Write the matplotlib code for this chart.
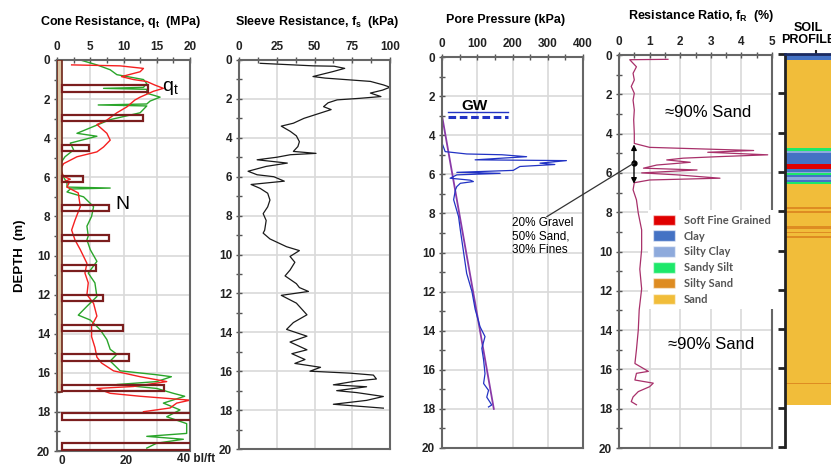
import numpy as np
import matplotlib
matplotlib.use('Agg')
import matplotlib.pyplot as plt
from matplotlib.patches import Patch, ConnectionPatch
from matplotlib.ticker import MultipleLocator

plt.rcParams['font.family'] = ['Liberation Sans', 'DejaVu Sans']
plt.rcParams['font.weight'] = 'bold'
plt.rcParams['mathtext.fontset'] = 'custom'
plt.rcParams['mathtext.rm'] = 'Liberation Sans'
plt.rcParams['mathtext.it'] = 'Liberation Sans'
plt.rcParams['mathtext.bf'] = 'Liberation Sans:bold'

# ---------------- data (depth in m) ----------------
qt_depth = [0.25, 0.3, 0.43, 0.6, 0.85, 1.0, 1.1, 1.28, 1.45, 1.6, 1.9, 2.05, 2.4, 2.7, 3.07,
            3.3, 3.6, 3.75, 4.1, 4.45, 4.7, 4.95, 5.3, 5.6, 5.95, 6.1, 6.2, 6.3, 6.5, 6.8,
            7.5, 8.2, 8.7, 9.2, 9.7, 10.4, 10.9, 11.4, 12.0, 12.45, 13.1, 13.6, 14.15, 14.7, 15.2,
            15.5, 15.9, 16.2, 16.45, 16.7, 16.8, 17.05, 17.2, 17.4, 17.55, 17.8, 17.99]
qt = [2.2, 9.5, 13, 12.5, 9.7, 11.5, 13.5, 14.7, 16, 14.5, 12.5, 11.7, 10.5, 9, 7.5,
      6, 7, 7.5, 8, 7, 6, 3, 1, 0.5, 1, 2, 1.2, 1.8, 1.5, 3.2,
      3.5, 2.7, 2.2, 2.7, 3.5, 4.5, 4.2, 4.7, 4.5, 5.5, 6, 5.2, 5.2, 5.7, 6,
      6.7, 8.5, 12.5, 16.5, 11.5, 6, 8, 12.5, 20, 18, 17, 13]

qc2_depth = [0, 0.25, 0.5, 0.75, 1.0, 1.2, 1.4, 1.45, 1.5, 1.7, 1.9, 2.1, 2.25, 2.3, 2.35,
             2.7, 3.05, 3.4, 3.75, 3.9, 4.25, 4.6, 4.95, 5.3, 5.8, 6.3, 6.5, 6.55, 6.6, 6.75,
             7.0, 7.5, 8.0, 8.5, 9.0, 9.2, 9.7, 10.3, 10.9, 11.4, 12.1, 12.6, 13.05, 13.3, 13.8,
             14.3, 14.8, 15.05, 15.4, 15.9, 16.1, 16.2, 16.45, 16.6, 16.8, 17.05, 17.2, 17.55, 17.9, 18.25,
             18.6, 19.1, 19.25, 19.4, 19.6, 19.85]
qc2 = [3.5, 6, 8, 9, 13, 13.5, 13, 7, 13.5, 13.5, 15.5, 14, 13.5, 6.2, 13.5,
       12.5, 8, 5.5, 3, 6, 2, 2.5, 1.2, 0.5, 0.7, 1.5, 1.5, 8, 2, 1.5,
       4, 5.5, 5.2, 4.5, 4.7, 4.5, 5, 6, 4.7, 5.7, 6, 4.5, 3.2, 5, 6.5,
       7.5, 8, 9, 8, 9.5, 15, 17.2, 15, 9, 15, 17.5, 19.2, 16, 18.5, 16.5,
       19.5, 19.5, 13.5, 19, 15, 13.5]

spt_depth = [1.3, 2.8, 4.35, 5.92, 7.4, 8.95, 10.47, 12.0, 13.55, 15.05, 16.6, 18.06, 19.6]
spt_n = [27, 25.3, 8.5, 6.5, 14.7, 14.7, 10.6, 12.7, 19, 21, 32, 50, 50]
casing_bottom = 17.0

fs_depth = [0.17, 0.3, 0.32, 0.43, 0.6, 0.85, 0.93, 1.1, 1.28, 1.4, 1.55, 1.7, 1.88, 1.97, 2.05,
            2.2, 2.4, 2.55, 2.8, 3.0, 3.25, 3.4, 3.67, 3.9, 4.2, 4.45, 4.7, 4.8, 4.87, 5.0,
            5.13, 5.3, 5.47, 5.72, 5.9, 6.0, 6.23, 6.4, 6.6, 6.85, 7.2, 7.55, 7.9, 8.25, 8.75,
            8.9, 9.2, 9.6, 9.8, 10.1, 10.4, 10.8, 11.1, 11.5, 11.7, 11.9, 12.1, 12.5, 12.8, 13.1,
            13.5, 13.85, 14.2, 14.5, 14.9, 15.1, 15.4, 15.6, 15.8, 16.0, 16.1, 16.2, 16.4, 16.5, 16.7,
            16.8, 17.0, 17.1, 17.3, 17.5, 17.7, 17.9]
fs = [14, 49, 63, 70, 62, 49, 57, 87, 95.6, 100, 95, 87, 94, 80, 65,
      59, 56, 61, 51, 43, 36, 28, 34, 38, 40, 39, 36, 51, 34, 25,
      12, 32, 18, 6, 12, 23, 30, 8, 14, 19, 20.5, 19, 16, 18, 17,
      16, 20.5, 31.5, 40, 33.8, 37, 33.8, 30.5, 38, 40, 46, 28, 38, 41.5, 45,
      36, 31.5, 45, 33.8, 45, 35, 43.7, 37, 54, 47, 73.5, 89, 91, 78, 62.5,
      84.5, 64.7, 78, 95.6, 84.5, 62.5, 95.6]

u2_depth = [0, 4.4, 4.84, 4.96, 5.0, 5.1, 5.18, 5.26, 5.3, 5.43, 5.5, 5.6, 5.8, 5.9, 5.95,
            6.03, 6.2, 6.3, 6.37, 6.46, 6.63, 6.8, 7.3, 8.17, 8.85, 9.96, 11.07, 12.0, 12.9, 13.8,
            14.3, 14.9, 15.5, 16.2, 16.7, 17.05, 17.4, 17.65, 17.8, 17.9]
u2 = [0, 0, 9, 70, 170, 240, 165, 94, 353, 278, 320, 221, 202, 42, 165,
      42, 23, 80, 89, 52, 42, 38, 33, 47, 52, 61, 70, 85, 94, 108,
      122, 113, 118, 122, 118, 132, 127, 136, 141, 132]
u0_depth = [3.0, 18.0]
u0 = [0, 147]
gw_depth = 2.95
gw_span = [18, 188]

fr_depth = [0.22, 0.24, 0.6, 0.93, 1.27, 1.6, 1.95, 2.3, 2.8, 3.3, 4.0, 4.5, 4.7, 4.86, 4.95,
            5.08, 5.17, 5.25, 5.34, 5.46, 5.6, 5.76, 5.85, 6.0, 6.1, 6.27, 6.36, 6.5, 6.86, 7.37,
            8.05, 8.9, 9.9, 10.9, 11.9, 12.97, 14.0, 15.0, 15.7, 16.1, 16.2, 16.54, 16.7, 16.88, 17.13,
            17.4, 17.64, 17.8]
fr = [1.6, 0.35, 0.57, 0.46, 0.5, 0.4, 0.5, 0.46, 0.5, 0.48, 0.5, 0.5, 1.0, 4.4, 2.9,
      4.86, 3.3, 2.1, 1.56, 2.33, 1.23, 0.8, 2.55, 0.74, 1.9, 3.3, 1.0, 0.5, 0.46, 0.57,
      0.63, 0.74, 0.74, 0.68, 0.74, 0.66, 0.63, 0.57, 0.52, 0.96, 0.57, 0.52, 1.12, 1.0, 0.63,
      0.46, 0.4, 0.57]

soil_names = ['Soft Fine Grained', 'Clay', 'Silty Clay', 'Sandy Silt', 'Silty Sand', 'Sand']
soil_colors = ['#e00000', '#4472c4', '#8eaadc', '#1de86a', '#de8c22', '#f1bd3a']
soil_bounds = [0.0, 0.06, 0.3, 4.8, 4.92, 5.05, 5.6, 5.87, 5.99, 6.04, 6.16, 6.24, 6.41, 6.53, 6.62,
               7.81, 7.87, 8.01, 8.07, 8.73, 8.9, 9.08, 9.13, 9.25, 9.36, 16.72, 16.8, 17.85]
soil_layers = ['Clay', 'Clay', 'Sand', 'Sandy Silt', 'Silty Clay', 'Clay', 'Soft Fine Grained', 'Clay',
               'Silty Clay', 'Sandy Silt', 'Clay', 'Silty Clay', 'Clay', 'Sandy Silt', 'Sand',
               'Silty Sand', 'Sand', 'Silty Sand', 'Sand', 'Silty Sand', 'Sand', 'Silty Sand', 'Sand',
               'Silty Sand', 'Sand', 'Silty Sand', 'Sand']

# ---------------- layout ----------------
W, H = 831, 466
fig = plt.figure(figsize=(W / 100, H / 100), dpi=100)


def px_axes(l, t, r, b):
    return fig.add_axes([l / W, 1 - b / H, (r - l) / W, (b - t) / H])


def style(ax, xmax, xmaj, xmin):
    ax.set_ylim(20, 0)
    ax.set_xlim(0, xmax)
    ax.xaxis.tick_top()
    ax.xaxis.set_major_locator(MultipleLocator(xmaj))
    ax.xaxis.set_minor_locator(MultipleLocator(xmin))
    ax.yaxis.set_major_locator(MultipleLocator(2))
    ax.yaxis.set_minor_locator(MultipleLocator(1))
    ax.grid(True, which='major', color='#d9d9d9', lw=1.2)
    ax.set_axisbelow(True)
    ax.tick_params(which='both', direction='inout', length=4, width=1, colors='#555',
                   labelcolor='#222', labelsize=8.5, pad=3)
    for s in ax.spines.values():
        s.set_color('#666')
        s.set_linewidth(1.5)


ax1 = px_axes(57, 60, 190, 451)
ax2 = px_axes(239, 60, 390, 449)
ax3 = px_axes(442, 57, 583, 448)
ax4 = px_axes(619, 55, 772, 448)
ax5 = px_axes(785, 54, 845, 447)

# panel 1: cone resistance + SPT N
ax1b = ax1.twiny()
style(ax1, 20, 5, 2.5)
ax1.xaxis.tick_top()
ax1.plot(qc2, qc2_depth, color='#2aa52a', lw=1)
ax1.plot(qt, qt_depth, color='#f52020', lw=1)
ax1.text(17, 1.45, r'q$_\mathregular{t}$', fontsize=14, fontweight='normal', ha='center', va='center')
ax1b.set_xlim(-1.56, 40)
ax1b.set_ylim(20, 0)
ax1b.xaxis.tick_bottom()
ax1b.set_xticks([0, 20, 40])
ax1b.set_xticklabels(['0', '20', ''])
ax1b.tick_params(length=0, labelsize=8.5, labelcolor='#222', pad=3)
for s in ax1b.spines.values():
    s.set_visible(False)
ax1b.barh(casing_bottom / 2, 1.56, left=-1.56, height=casing_bottom,
          facecolor='#dcc6a6', edgecolor='#6e2418', lw=1.2)
ax1b.barh(np.array(spt_depth) + 0.165, spt_n, height=0.33, left=0,
          facecolor='none', edgecolor='#7b1e1e', lw=1.6)
ax1b.text(19, 7.4, 'N', fontsize=14, fontweight='normal', ha='center', va='center')
fig.text(177 / W, 1 - 459 / H, '40 bl/ft', fontsize=8.5, ha='left', va='center', color='#222')

# panel 2: sleeve resistance
style(ax2, 100, 25, 12.5)
ax2.plot(fs, fs_depth, color='#1a1a1a', lw=0.9)

# panel 3: pore pressure
style(ax3, 400, 100, 50)
ax3.plot(u0, u0_depth, color='#8a3aa8', lw=1.3)
ax3.plot(u2, u2_depth, color='#2233c4', lw=0.9)
ax3.plot(gw_span, [gw_depth - 0.13] * 2, color='#2233c4', lw=1)
ax3.plot(gw_span, [gw_depth + 0.13] * 2, color='#2233c4', lw=2.2, ls=(0, (2.5, 1.2)))
ax3.text(93, 2.5, 'GW', fontsize=11, ha='center', va='center')
ax3.text(198, 8.2, '20% Gravel\n50% Sand,\n30% Fines', fontsize=8.5, fontweight='normal',
         ha='left', va='top', linespacing=1.15)

# panel 4: resistance ratio
style(ax4, 5, 1, 0.5)
ax4.plot(fr, fr_depth, color='#a8306a', lw=0.9)
ax4.annotate('', xy=(0.49, 4.55), xytext=(0.49, 6.55),
             arrowprops=dict(arrowstyle='<|-|>', color='k', lw=1, mutation_scale=8, shrinkA=0, shrinkB=0))
ax4.plot(0.49, 5.5, 'o', color='k', ms=3.5)
ax4.text(2.9, 2.95, '\u224890% Sand', fontsize=12, fontweight='normal', ha='center', va='center')
ax4.text(3.0, 14.75, '\u224890% Sand', fontsize=12, fontweight='normal', ha='center', va='center')
con = ConnectionPatch(xyA=(297, 8.17), coordsA=ax3.transData, xyB=(0.49, 5.5), coordsB=ax4.transData,
                      color='#333', lw=0.9)
fig.add_artist(con)
handles = [Patch(facecolor=c, edgecolor='#ffffff80', label=n) for n, c in zip(soil_names, soil_colors)]
leg = ax4.legend(handles=handles, loc='upper left', bbox_to_anchor=(0.19, 0.605), frameon=True,
                 facecolor='white', edgecolor='none', framealpha=1, fancybox=False,
                 prop={'family': 'Lato', 'size': 8}, handlelength=2.0, handleheight=1.1,
                 labelspacing=0.42, borderpad=0.4, handletextpad=0.8, borderaxespad=0)
for t in leg.get_texts():
    t.set_color('#555')

# panel 5: soil profile
color_of = dict(zip(soil_names, soil_colors))
tops = np.array(soil_bounds[:-1])
thick = np.diff(soil_bounds)
ax5.bar(0.5, thick, bottom=tops, width=1, color=[color_of[s] for s in soil_layers], lw=0)
ax5.set_xlim(0, 1)
ax5.set_ylim(20, 0)
ax5.xaxis.tick_top()
ax5.set_xticks([0.52])
ax5.set_xticklabels([])
ax5.yaxis.set_major_locator(MultipleLocator(2))
ax5.set_yticklabels([])
ax5.tick_params(axis='y', direction='out', length=5, width=2, color='#222')
ax5.tick_params(axis='x', direction='out', length=3, width=1.5, color='#222')
ax5.spines['right'].set_visible(False)
ax5.spines['bottom'].set_visible(False)
ax5.spines['left'].set_linewidth(2)
ax5.spines['left'].set_color('#222')
ax5.spines['top'].set_linewidth(2)
ax5.spines['top'].set_color('#1a2a60')

# titles
fig.text(121 / W, 1 - 22 / H, r'Cone Resistance, $\mathbf{q_t}$  (MPa)', fontsize=9, ha='center', va='center')
fig.text(317 / W, 1 - 22 / H, r'Sleeve Resistance, $\mathbf{f_s}$  (kPa)', fontsize=9, ha='center', va='center')
fig.text(506 / W, 1 - 20 / H, 'Pore Pressure (kPa)', fontsize=9, ha='center', va='center')
fig.text(701 / W, 1 - 16 / H, r'Resistance Ratio, $\mathbf{f_R}$  (%)', fontsize=9, ha='center', va='center')
fig.text(808 / W, 1 - 34 / H, 'SOIL\nPROFILE', fontsize=9, ha='center', va='center', linespacing=1.1)
fig.text(20 / W, 1 - 256 / H, 'DEPTH  (m)', fontsize=9.5, rotation=90, ha='center', va='center')

fig.savefig('out.png', dpi=100)
